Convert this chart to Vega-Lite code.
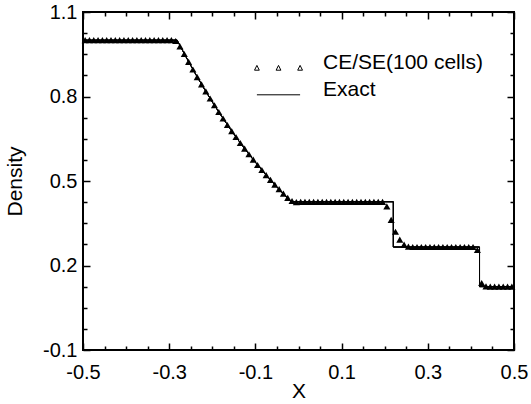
{
  "$schema": "https://vega.github.io/schema/vega-lite/v6.json",
  "width": 431,
  "height": 338,
  "autosize": {"type": "none"},
  "padding": {"left": 83, "top": 12, "right": 17, "bottom": 54},
  "background": "white",
  "config": {
    "view": {"stroke": "black", "strokeWidth": 2, "fill": null},
    "font": "Liberation Sans",
    "axis": {
      "zindex": 2,
      "grid": false,
      "domain": false,
      "tickColor": "black",
      "tickWidth": 1.5,
      "tickOpacity": 1,
      "labelColor": "black",
      "titleColor": "black",
      "labelFont": "Liberation Sans",
      "titleFont": "Liberation Sans",
      "labelFontSize": 20,
      "titleFontSize": 21,
      "titleFontWeight": "normal",
      "labelFlush": false,
      "labelOverlap": false
    }
  },
  "datasets": {
    "series": [
      {"series": "CE/SE(100 cells)"},
      {"series": "Exact"}
    ],
    "exact": [
      {"o": 0, "x": -0.5, "rho": 1.0},
      {"o": 1, "x": -0.2816, "rho": 1.0},
      {"o": 2, "x": -0.28, "rho": 0.9953},
      {"o": 3, "x": -0.26, "rho": 0.9377},
      {"o": 4, "x": -0.24, "rho": 0.8828},
      {"o": 5, "x": -0.22, "rho": 0.8305},
      {"o": 6, "x": -0.2, "rho": 0.7807},
      {"o": 7, "x": -0.18, "rho": 0.7334},
      {"o": 8, "x": -0.16, "rho": 0.6884},
      {"o": 9, "x": -0.14, "rho": 0.6456},
      {"o": 10, "x": -0.12, "rho": 0.6049},
      {"o": 11, "x": -0.1, "rho": 0.5664},
      {"o": 12, "x": -0.08, "rho": 0.5298},
      {"o": 13, "x": -0.06, "rho": 0.4951},
      {"o": 14, "x": -0.04, "rho": 0.4623},
      {"o": 15, "x": -0.02, "rho": 0.4313},
      {"o": 16, "x": -0.0167, "rho": 0.4263},
      {"o": 17, "x": 0.22, "rho": 0.4263},
      {"o": 18, "x": 0.22, "rho": 0.2656},
      {"o": 19, "x": 0.42, "rho": 0.2656},
      {"o": 20, "x": 0.42, "rho": 0.125},
      {"o": 21, "x": 0.5, "rho": 0.125}
    ],
    "numerical": [
      {"x": -0.495, "rho": 1.0}, {"x": -0.485, "rho": 1.0}, {"x": -0.475, "rho": 1.0}, {"x": -0.465, "rho": 1.0},
      {"x": -0.455, "rho": 1.0}, {"x": -0.445, "rho": 1.0}, {"x": -0.435, "rho": 1.0}, {"x": -0.425, "rho": 1.0},
      {"x": -0.415, "rho": 1.0}, {"x": -0.405, "rho": 1.0}, {"x": -0.395, "rho": 1.0}, {"x": -0.385, "rho": 1.0},
      {"x": -0.375, "rho": 1.0}, {"x": -0.365, "rho": 1.0}, {"x": -0.355, "rho": 1.0}, {"x": -0.345, "rho": 1.0},
      {"x": -0.335, "rho": 1.0}, {"x": -0.325, "rho": 1.0}, {"x": -0.315, "rho": 1.0}, {"x": -0.305, "rho": 1.0},
      {"x": -0.295, "rho": 1.0},
      {"x": -0.285, "rho": 0.997}, {"x": -0.275, "rho": 0.978}, {"x": -0.265, "rho": 0.951}, {"x": -0.255, "rho": 0.923},
      {"x": -0.245, "rho": 0.896}, {"x": -0.235, "rho": 0.869}, {"x": -0.225, "rho": 0.843}, {"x": -0.215, "rho": 0.818},
      {"x": -0.205, "rho": 0.793}, {"x": -0.195, "rho": 0.769}, {"x": -0.185, "rho": 0.745}, {"x": -0.175, "rho": 0.722},
      {"x": -0.165, "rho": 0.699}, {"x": -0.155, "rho": 0.677}, {"x": -0.145, "rho": 0.656}, {"x": -0.135, "rho": 0.635},
      {"x": -0.125, "rho": 0.615}, {"x": -0.115, "rho": 0.595}, {"x": -0.105, "rho": 0.576}, {"x": -0.095, "rho": 0.557},
      {"x": -0.085, "rho": 0.539}, {"x": -0.075, "rho": 0.521}, {"x": -0.065, "rho": 0.504}, {"x": -0.055, "rho": 0.487},
      {"x": -0.045, "rho": 0.471}, {"x": -0.035, "rho": 0.455}, {"x": -0.025, "rho": 0.44}, {"x": -0.015, "rho": 0.429},
      {"x": -0.005, "rho": 0.425},
      {"x": 0.005, "rho": 0.426}, {"x": 0.015, "rho": 0.426}, {"x": 0.025, "rho": 0.426}, {"x": 0.035, "rho": 0.426},
      {"x": 0.045, "rho": 0.426}, {"x": 0.055, "rho": 0.426}, {"x": 0.065, "rho": 0.426}, {"x": 0.075, "rho": 0.426},
      {"x": 0.085, "rho": 0.426}, {"x": 0.095, "rho": 0.426}, {"x": 0.105, "rho": 0.426}, {"x": 0.115, "rho": 0.426},
      {"x": 0.125, "rho": 0.426}, {"x": 0.135, "rho": 0.426}, {"x": 0.145, "rho": 0.426}, {"x": 0.155, "rho": 0.426},
      {"x": 0.165, "rho": 0.426}, {"x": 0.175, "rho": 0.426}, {"x": 0.185, "rho": 0.426}, {"x": 0.195, "rho": 0.426},
      {"x": 0.205, "rho": 0.41}, {"x": 0.215, "rho": 0.362}, {"x": 0.225, "rho": 0.32}, {"x": 0.235, "rho": 0.292},
      {"x": 0.245, "rho": 0.274}, {"x": 0.255, "rho": 0.267},
      {"x": 0.265, "rho": 0.2656}, {"x": 0.275, "rho": 0.2656}, {"x": 0.285, "rho": 0.2656}, {"x": 0.295, "rho": 0.2656},
      {"x": 0.305, "rho": 0.2656}, {"x": 0.315, "rho": 0.2656}, {"x": 0.325, "rho": 0.2656}, {"x": 0.335, "rho": 0.2656},
      {"x": 0.345, "rho": 0.2656}, {"x": 0.355, "rho": 0.2656}, {"x": 0.365, "rho": 0.2656}, {"x": 0.375, "rho": 0.2656},
      {"x": 0.385, "rho": 0.2656}, {"x": 0.395, "rho": 0.2656}, {"x": 0.405, "rho": 0.2656},
      {"x": 0.415, "rho": 0.255}, {"x": 0.425, "rho": 0.138}, {"x": 0.435, "rho": 0.126},
      {"x": 0.445, "rho": 0.125}, {"x": 0.455, "rho": 0.125}, {"x": 0.465, "rho": 0.125}, {"x": 0.475, "rho": 0.125},
      {"x": 0.485, "rho": 0.125}, {"x": 0.495, "rho": 0.125}
    ]
  },
  "layer": [
    {
      "data": {"name": "exact"},
      "mark": {"type": "line", "color": "black", "strokeWidth": 1},
      "encoding": {
        "x": {
          "field": "x", "type": "quantitative",
          "scale": {"domain": [-0.5, 0.5], "nice": false, "zero": false},
          "axis": {
            "orient": "bottom", "title": "X", "ticks": false, "tickSize": 0,
            "values": [-0.5, -0.3, -0.1, 0.1, 0.3, 0.5],
            "labelExpr": "(datum.value < 0 ? '-' : '') + format(abs(datum.value), '.1f')",
            "labelPadding": 12, "titlePadding": -2
          }
        },
        "y": {
          "field": "rho", "type": "quantitative",
          "scale": {"domain": [-0.1, 1.1], "nice": false, "zero": false},
          "axis": {
            "orient": "left", "title": "Density", "ticks": false, "tickSize": 0,
            "values": [-0.1, 0.2, 0.5, 0.8, 1.1],
            "labelExpr": "(datum.value < 0 ? '-' : '') + format(abs(datum.value), '.1f')",
            "labelPadding": 6, "titlePadding": 17
          }
        },
        "order": {"field": "o", "type": "quantitative"}
      }
    },
    {
      "data": {"name": "numerical"},
      "mark": {"type": "point", "shape": "triangle-up", "filled": true, "color": "black", "size": 50, "opacity": 1},
      "encoding": {
        "x": {
          "field": "x", "type": "quantitative",
          "scale": {"domain": [-0.5, 0.5], "nice": false, "zero": false},
          "axis": {"orient": "bottom", "title": null, "labels": false, "ticks": true, "domain": false, "offset": -7, "tickSize": 7, "tickColor": "black",
                   "values": [-0.5, -0.3, -0.1, 0.1, 0.3, 0.5]}
        },
        "y": {
          "field": "rho", "type": "quantitative",
          "scale": {"domain": [-0.1, 1.1], "nice": false, "zero": false},
          "axis": {"orient": "left", "title": null, "labels": false, "ticks": true, "domain": false, "offset": -7, "tickSize": 7, "tickColor": "black",
                   "values": [-0.1, 0.2, 0.5, 0.8, 1.1]}
        }
      }
    },
    {
      "data": {"name": "exact"},
      "mark": {"type": "line", "color": "black", "strokeWidth": 1},
      "encoding": {
        "x": {
          "field": "x", "type": "quantitative",
          "scale": {"domain": [-0.5, 0.5], "nice": false, "zero": false},
          "axis": {"orient": "bottom", "title": null, "labels": false, "ticks": true, "domain": false, "offset": -4, "tickSize": 4, "tickColor": "black",
                   "values": [-0.45, -0.4, -0.35, -0.25, -0.2, -0.15, -0.05, 0, 0.05, 0.15, 0.2, 0.25, 0.35, 0.4, 0.45]}
        },
        "y": {
          "field": "rho", "type": "quantitative",
          "scale": {"domain": [-0.1, 1.1], "nice": false, "zero": false},
          "axis": {"orient": "left", "title": null, "labels": false, "ticks": true, "domain": false, "offset": -4, "tickSize": 4, "tickColor": "black",
                   "values": [-0.025, 0.05, 0.125, 0.275, 0.35, 0.425, 0.575, 0.65, 0.725, 0.875, 0.95, 1.025]}
        },
        "order": {"field": "o", "type": "quantitative"}
      }
    },
    {
      "data": {"name": "exact"},
      "mark": {"type": "line", "color": "black", "strokeWidth": 1},
      "encoding": {
        "x": {
          "field": "x", "type": "quantitative",
          "scale": {"domain": [-0.5, 0.5], "nice": false, "zero": false},
          "axis": {"orient": "top", "title": null, "labels": false, "ticks": true, "domain": false, "offset": -7, "tickSize": 7, "tickColor": "black",
                   "values": [-0.5, -0.3, -0.1, 0.1, 0.3, 0.5]}
        },
        "y": {
          "field": "rho", "type": "quantitative",
          "scale": {"domain": [-0.1, 1.1], "nice": false, "zero": false},
          "axis": {"orient": "right", "title": null, "labels": false, "ticks": true, "domain": false, "offset": -7, "tickSize": 7, "tickColor": "black",
                   "values": [-0.1, 0.2, 0.5, 0.8, 1.1]}
        },
        "order": {"field": "o", "type": "quantitative"}
      }
    },
    {
      "data": {"name": "exact"},
      "mark": {"type": "line", "color": "black", "strokeWidth": 1},
      "encoding": {
        "x": {
          "field": "x", "type": "quantitative",
          "scale": {"domain": [-0.5, 0.5], "nice": false, "zero": false},
          "axis": {"orient": "top", "title": null, "labels": false, "ticks": true, "domain": false, "offset": -4, "tickSize": 4, "tickColor": "black",
                   "values": [-0.45, -0.4, -0.35, -0.25, -0.2, -0.15, -0.05, 0, 0.05, 0.15, 0.2, 0.25, 0.35, 0.4, 0.45]}
        },
        "y": {
          "field": "rho", "type": "quantitative",
          "scale": {"domain": [-0.1, 1.1], "nice": false, "zero": false},
          "axis": {"orient": "right", "title": null, "labels": false, "ticks": true, "domain": false, "offset": -4, "tickSize": 4, "tickColor": "black",
                   "values": [-0.025, 0.05, 0.125, 0.275, 0.35, 0.425, 0.575, 0.65, 0.725, 0.875, 0.95, 1.025]}
        },
        "order": {"field": "o", "type": "quantitative"}
      }
    },
    {
      "data": {"name": "series"},
      "mark": {"type": "point", "filled": false, "color": "black", "strokeWidth": 1, "size": 0},
      "encoding": {
        "shape": {
          "field": "series", "type": "nominal",
          "scale": {
            "domain": ["CE/SE(100 cells)", "Exact"],
            "range": [
              "M-1,0.3L-0.9,0.1L-0.8,0.3Z M-0.1,0.3L0,0.1L0.1,0.3Z M0.8,0.3L0.9,0.1L1,0.3Z",
              "M-0.9,0.2L0.9,0.2"
            ]
          },
          "legend": {
            "title": null,
            "orient": "none",
            "legendX": 171,
            "legendY": 40,
            "padding": 0,
            "labelFont": "Liberation Sans",
            "labelFontSize": 21,
            "labelColor": "black",
            "labelOffset": 20,
            "symbolSize": 2304,
            "symbolOpacity": 1,
            "symbolStrokeWidth": 1,
            "symbolStrokeColor": "black",
            "symbolFillColor": "transparent",
            "clipHeight": 22,
            "rowPadding": 5
          }
        }
      }
    }
  ],
  "resolve": {"axis": {"x": "independent", "y": "independent"}}
}
